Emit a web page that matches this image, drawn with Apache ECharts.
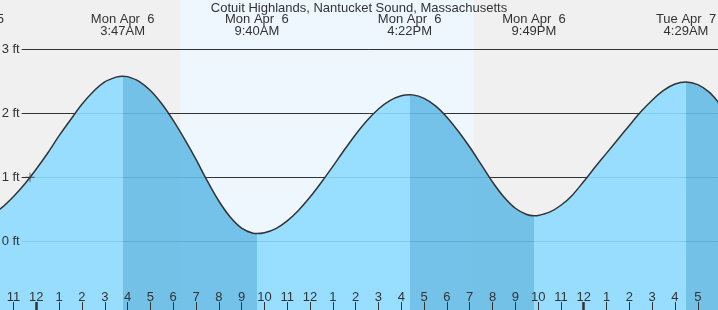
<!DOCTYPE html>
<html>
<head>
<meta charset="utf-8">
<script src="https://cdn.jsdelivr.net/npm/echarts@6/dist/echarts.min.js"></script>
<style>
html,body{margin:0;padding:0;background:#f0f0f0;}
#c{width:718px;height:310px;}
</style>
</head>
<body>
<div id="c"></div>
<script>
// ---- data (hours relative to Mon Apr 6 00:00, heights in ft) ----
const titleText = 'Cotuit Highlands, Nantucket Sound, Massachusetts';
const tideHours = [
  -2.85, -2.5, -2, -1.5, -1, -0.5, 0, 0.5, 1, 1.5, 2, 2.5, 3, 3.5, 3.783,
  4, 4.5, 5, 5.5, 6, 6.5, 7, 7.5, 8, 8.5, 9, 9.5, 9.667,
  10, 10.5, 11, 11.5, 12, 12.5, 13, 13.5, 14, 14.5, 15, 15.5, 16, 16.367,
  16.5, 17, 17.5, 18, 18.5, 19, 19.5, 20, 20.5, 21, 21.5, 21.817,
  22, 22.5, 23, 23.5, 24, 24.5, 25, 25.5, 26, 26.5, 27, 27.5, 28, 28.483,
  29, 29.5, 30
];
const tideFeet = [
  0.33, 0.34, 0.41, 0.53, 0.70, 0.90, 1.13, 1.38, 1.65, 1.90, 2.14, 2.34, 2.49, 2.565, 2.58,
  2.573, 2.50, 2.356, 2.148, 1.889, 1.596, 1.28, 0.94, 0.63, 0.38, 0.207, 0.125, 0.12,
  0.133, 0.199, 0.319, 0.486, 0.691, 0.923, 1.17, 1.426, 1.67, 1.888, 2.068, 2.199, 2.273, 2.29,
  2.288, 2.234, 2.116, 1.94, 1.72, 1.473, 1.201, 0.926, 0.691, 0.516, 0.418, 0.40,
  0.404, 0.455, 0.563, 0.721, 0.935, 1.16, 1.378, 1.595, 1.81, 2.023, 2.205, 2.357, 2.457, 2.49,
  2.448, 2.33, 2.13
];
const eventHours = [-2.767, 3.783, 9.667, 16.367, 21.817, 28.483];
const eventKinds = ['low', 'high', 'low', 'high', 'low', 'high'];
const eventDays  = ['Sun Apr  5', 'Mon Apr  6', 'Mon Apr  6', 'Mon Apr  6', 'Mon Apr  6', 'Tue Apr  7'];
const eventTimes = ['9:14PM', '3:47AM', '9:40AM', '4:22PM', '9:49PM', '4:29AM'];
const midnightHours = [0, 24];
const daylightHours = [6.3, 19.19];   // sunrise, sunset
const feetTicks = [0, 1, 2, 3];
const nowPoint = [-0.276, 1.0];

// ---- styling ----
const FONT = '"Liberation Sans", Arial, Helvetica, sans-serif';
const TXT = '#333333';
const LIGHT = '#8edbff';
const DARK = '#66bce6';

// falling-tide pieces (high -> next low) get the darker fill
const pieces = [];
let prev = null;
for (let i = 0; i < eventHours.length; i++) {
  const h = eventHours[i];
  if (eventKinds[i] === 'high') {
    pieces.push(prev === null ? {max: h, color: LIGHT} : {min: prev, max: h, color: LIGHT});
  } else if (prev !== null) {
    pieces.push({min: prev, max: h, color: DARK});
  }
  prev = h;
}
pieces.push({min: prev, color: eventKinds[eventKinds.length - 1] === 'high' ? DARK : LIGHT});

function hourLabel(v) {
  const r = Math.round(v);
  const h = ((r % 12) + 12) % 12;
  return String(h === 0 ? 12 : h);
}
function eventLabel(v) {
  for (let i = 0; i < eventHours.length; i++) {
    if (Math.abs(eventHours[i] - v) < 1e-6) return eventDays[i] + '\n' + eventTimes[i];
  }
  return '';
}

const chart = echarts.init(document.getElementById('c'), null, {renderer: 'canvas'});
chart.setOption({
  backgroundColor: '#f0f0f0',
  animation: false,
  title: {
    text: titleText, left: 'center', top: 2, padding: 0,
    textStyle: {fontSize: 13, fontWeight: 'normal', color: TXT, fontFamily: FONT}
  },
  grid: [
    {left: -32.1, right: -2.6, top: -14.7, bottom: -59.3, containLabel: false, outerBoundsMode: 'none'},
    {left: 21.7, right: 0, top: 49.3, bottom: 68.7, containLabel: false, outerBoundsMode: 'none'}
  ],
  visualMap: {
    type: 'piecewise', show: false, dimension: 0, seriesIndex: 0, pieces: pieces
  },
  xAxis: [
    {
      gridIndex: 0, type: 'value', min: -3, max: 30, interval: 1, position: 'bottom', offset: -59.3, z: 6,
      axisLine: {show: false, onZero: false},
      axisTick: {show: true, inside: true, length: 8, lineStyle: {color: TXT, width: 1}},
      axisLabel: {inside: true, margin: 6.5, interval: 0, showMinLabel: false, showMaxLabel: false,
                  fontSize: 13, color: TXT, fontFamily: FONT, formatter: hourLabel},
      splitLine: {show: false}
    },
    {
      gridIndex: 0, type: 'value', min: -3, max: 30, position: 'bottom', offset: -59.3, z: 6,
      axisLine: {show: false, onZero: false},
      axisTick: {show: true, inside: true, length: 8, customValues: midnightHours, lineStyle: {color: TXT, width: 2.5}},
      axisLabel: {show: false},
      splitLine: {show: false}
    },
    {
      gridIndex: 0, type: 'value', min: -3, max: 30, position: 'top', z: 6,
      axisLine: {show: false, onZero: false},
      axisTick: {show: false},
      axisLabel: {inside: true, margin: 28.5, customValues: eventHours, formatter: eventLabel,
                  fontSize: 13, lineHeight: 12, color: TXT, fontFamily: FONT, align: 'center'},
      splitLine: {show: false}
    },
    {gridIndex: 1, type: 'value', min: 1, max: 2, show: false}
  ],
  yAxis: [
    {gridIndex: 0, type: 'value', min: -2, max: 4, show: false, axisLine: {onZero: false}},
    {
      gridIndex: 1, type: 'value', min: 0, max: 3, interval: 1, position: 'left', z: 1,
      axisLine: {show: false, onZero: false}, axisTick: {show: false}, axisLabel: {show: false},
      splitLine: {show: true, lineStyle: {color: TXT, width: 1}}
    },
    {
      gridIndex: 1, type: 'value', min: 0, max: 3, interval: 1, position: 'left', z: 10,
      axisLine: {show: false, onZero: false}, axisTick: {show: false},
      axisLabel: {margin: 2, fontSize: 13, color: TXT, fontFamily: FONT,
                  formatter: v => (feetTicks.indexOf(v) >= 0 ? v + ' ft' : '')},
      splitLine: {show: false}
    }
  ],
  series: [
    {
      type: 'line', xAxisIndex: 0, yAxisIndex: 0, z: 2,
      data: tideHours.map((h, i) => [h, tideFeet[i]]),
      smooth: 0.3, symbol: 'none', showSymbol: false,
      lineStyle: {color: TXT, width: 1.5},
      areaStyle: {origin: 'start', opacity: 0.9},
      markArea: {
        silent: true, z: 0,
        itemStyle: {color: '#eef6fe'},
        label: {show: false},
        data: [[{xAxis: daylightHours[0]}, {xAxis: daylightHours[1]}]]
      }
    },
    {
      type: 'scatter', xAxisIndex: 0, yAxisIndex: 0, z: 8,
      data: [nowPoint],
      symbol: 'path://M0,4.5H10V5.5H0Z M4.5,0H5.5V10H4.5Z', symbolSize: 9,
      itemStyle: {color: TXT}
    }
  ]
});
</script>
</body>
</html>
